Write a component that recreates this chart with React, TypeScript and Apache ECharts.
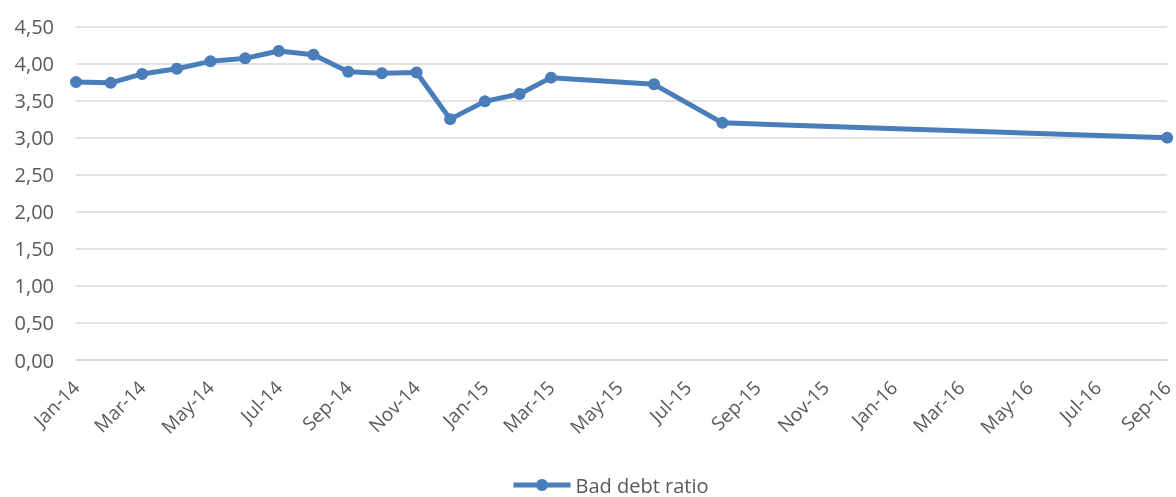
import React, { useEffect, useRef } from "react";
import * as echarts from "echarts";

const pointMonths: string[] = [
  "2014-01", "2014-02", "2014-03", "2014-04", "2014-05", "2014-06", "2014-07",
  "2014-08", "2014-09", "2014-10", "2014-11", "2014-12", "2015-01", "2015-02",
  "2015-03", "2015-06", "2015-08", "2016-09",
];
const badDebtRatio: number[] = [
  3.75, 3.74, 3.86, 3.93, 4.03, 4.07, 4.17, 4.12, 3.89, 3.87, 3.88, 3.25, 3.49,
  3.59, 3.81, 3.72, 3.2, 3.0,
];
const tickMonths: string[] = [
  "2014-01", "2014-03", "2014-05", "2014-07", "2014-09", "2014-11",
  "2015-01", "2015-03", "2015-05", "2015-07", "2015-09", "2015-11",
  "2016-01", "2016-03", "2016-05", "2016-07", "2016-09",
];
const monthNames = ["Jan", "Feb", "Mar", "Apr", "May", "Jun", "Jul", "Aug", "Sep", "Oct", "Nov", "Dec"];
const seriesName = "Bad debt ratio";

const DAY = 86400000;
const BASE = Date.UTC(2014, 0, 1);
// day number (days since 1 Jan 2014) of the first day of a month
const toDay = (ym: string) => {
  const [y, m] = ym.split("-").map(Number);
  return Math.round((Date.UTC(y, m - 1, 1) - BASE) / DAY);
};
const dayLabel = (d: number) => {
  const dt = new Date(BASE + d * DAY);
  return monthNames[dt.getUTCMonth()] + "-" + String(dt.getUTCFullYear()).slice(2);
};

const FONT = "'Open Sans', 'Noto Sans', sans-serif";
const TEXT = "#595959";
const GRID = "#d9d9d9";
const BLUE = "#4a7ebb";

export default function App() {
  const ref = useRef<HTMLDivElement>(null);
  useEffect(() => {
    if (!ref.current) return;
    const chart = echarts.init(ref.current, undefined, { renderer: "svg" });
    const ticks = tickMonths.map(toDay);
    chart.setOption({
      animation: false,
      textStyle: { fontFamily: FONT },
      grid: { left: 76, right: 4, top: 26.5, bottom: 137, containLabel: false },
      xAxis: {
        type: "value",
        min: ticks[0],
        max: ticks[ticks.length - 1],
        axisLine: { show: true, onZero: false, lineStyle: { color: GRID, width: 1.5 } },
        axisTick: { show: false },
        splitLine: { show: false },
        axisLabel: {
          customValues: ticks,
          rotate: 45,
          margin: 24,
          color: TEXT,
          fontSize: 19,
          fontFamily: FONT,
          hideOverlap: false,
          formatter: (v: number) => dayLabel(v),
        },
      },
      yAxis: {
        type: "value",
        min: 0,
        max: 4.5,
        interval: 0.5,
        axisLine: { show: false },
        axisTick: { show: false },
        splitLine: { lineStyle: { color: GRID, width: 1.5 } },
        axisLabel: {
          margin: 22,
          color: TEXT,
          fontSize: 20,
          fontFamily: FONT,
          formatter: (v: number) => v.toFixed(2).replace(".", ","),
        },
      },
      legend: {
        left: 511,
        top: 475,
        padding: 0,
        itemWidth: 57,
        itemHeight: 15,
        itemGap: 4,
        lineStyle: { width: 5, color: BLUE },
        itemStyle: { color: BLUE },
        textStyle: { color: TEXT, fontSize: 20, fontFamily: FONT },
        data: [seriesName],
      },
      series: [
        {
          name: seriesName,
          type: "line",
          data: pointMonths.map((m, i) => [toDay(m), badDebtRatio[i]]),
          symbol: "circle",
          symbolSize: 12,
          showSymbol: true,
          lineStyle: { color: BLUE, width: 5 },
          itemStyle: { color: BLUE },
        },
      ],
    });
    return () => chart.dispose();
  }, []);
  return (
    <div
      ref={ref}
      style={{ position: "fixed", left: 0, top: 0, width: 1176, height: 497 }}
    />
  );
}
